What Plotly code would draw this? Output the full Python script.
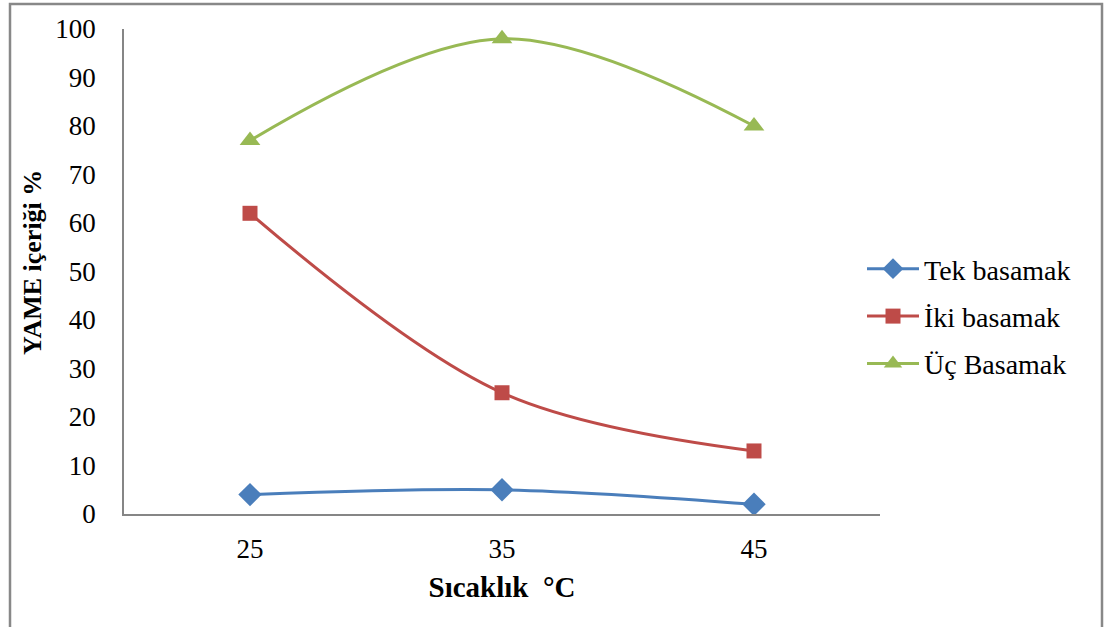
import plotly.graph_objects as go

temperatures = ["25", "35", "45"]
tek_basamak = [4, 5, 2]
iki_basamak = [62, 25, 13]
uc_basamak = [77, 98, 80]
y_ticks = [0, 10, 20, 30, 40, 50, 60, 70, 80, 90, 100]

series = [
    ("Tek basamak", tek_basamak, "#4A7EBB", "diamond", 18),
    ("İki basamak", iki_basamak, "#BE4B48", "square", 15),
    ("Üç Basamak", uc_basamak, "#98B954", "triangle-up", 18),
]

fig = go.Figure()
for name, vals, color, symbol, size in series:
    fig.add_trace(go.Scatter(
        x=temperatures, y=vals, name=name, mode="lines+markers",
        legendgroup=name,
        line=dict(color=color, width=3, shape="spline", smoothing=1),
        marker=dict(color=color, symbol=symbol, size=size, line=dict(width=0)),
    ))

serif = "Liberation Serif"

# plot area spans pixels x 124..880, y 29..514
L, R, T, B = 124, 880, 29, 514
W, H = 1105, 627

def px_x(p):
    return (p - L) / (R - L)

def px_y(p):
    return (B - p) / (B - T)

fig.update_layout(
    width=W, height=H,
    margin=dict(l=L, r=W - R, t=T, b=H - B),
    paper_bgcolor="white", plot_bgcolor="white",
    font=dict(family=serif, size=27, color="black"),
    xaxis=dict(
        type="category", range=[-0.5, 2.5], showgrid=False, zeroline=False,
        showline=True, linecolor="#868686", linewidth=1.5,
        ticks="", tickfont=dict(family=serif, size=27), ticklabelstandoff=10,
        title=dict(text="<b>Sıcaklık  °C</b>", font=dict(family=serif, size=29), standoff=14),
    ),
    yaxis=dict(
        range=[0, 100], tickvals=y_ticks, showgrid=False, zeroline=False,
        showline=True, linecolor="#868686", linewidth=1.5,
        ticks="", tickfont=dict(family=serif, size=27), ticklabelstandoff=21,
    ),
    annotations=[dict(
        text="<b>YAME içeriği %</b>", textangle=-90,
        xref="paper", yref="paper", x=px_x(32), y=px_y(263),
        xanchor="center", yanchor="middle", showarrow=False,
        font=dict(family=serif, size=26, color="black"),
    )],
    legend=dict(
        x=px_x(862), y=px_y(244), xanchor="left", yanchor="top",
        font=dict(family=serif, size=28), bgcolor="rgba(0,0,0,0)",
        itemwidth=52, tracegroupgap=8,
    ),
    shapes=[dict(
        type="rect", xref="paper", yref="paper",
        x0=px_x(10), x1=px_x(1102), y0=px_y(640), y1=px_y(4),
        line=dict(color="#888888", width=2.5), layer="below",
    )],
)

fig.write_html("out.html")
